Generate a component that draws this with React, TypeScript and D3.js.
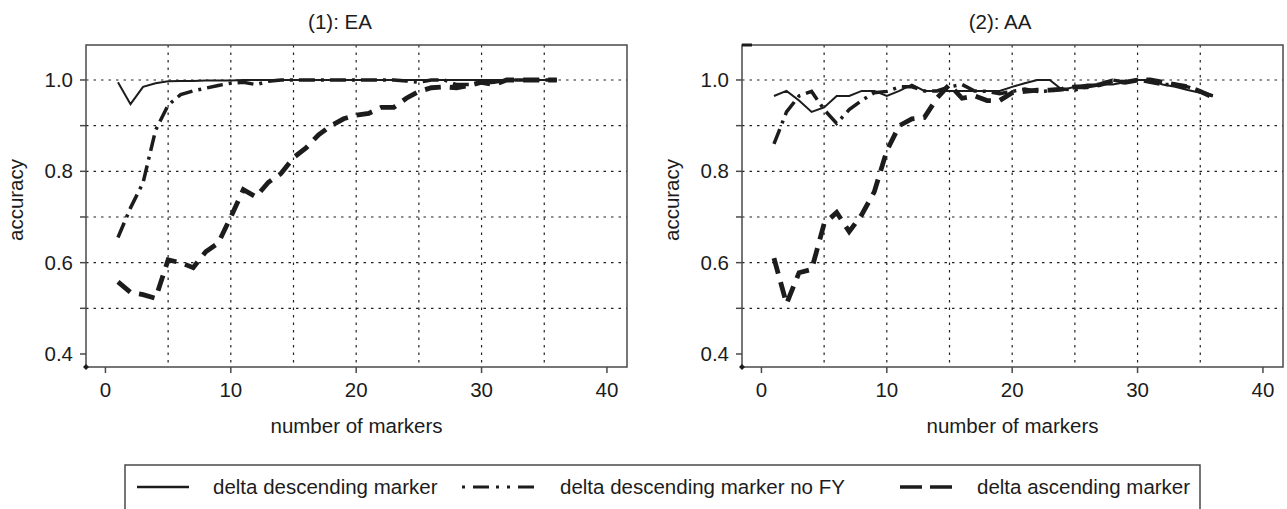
import * as d3 from 'd3';

// number of markers (x) shared by every series
const markers = [1, 2, 3, 4, 5, 6, 7, 8, 9, 10, 11, 12, 13, 14, 15, 16, 17, 18, 19, 20, 21, 22, 23, 24, 25, 26, 27, 28, 29, 30, 31, 32, 33, 34, 35, 36];

// (1): EA
const eaDescending = [0.995, 0.947, 0.985, 0.993, 0.997, 0.998, 0.998, 0.999, 0.999, 0.999, 1, 1, 1, 1, 1, 1, 1, 1, 1, 1, 1, 1, 1, 1, 1, 1, 1, 1, 1, 1, 1, 1, 1, 1, 1, 1];
const eaDescendingNoFY = [0.655, 0.72, 0.775, 0.89, 0.945, 0.968, 0.976, 0.982, 0.988, 0.993, 0.995, 0.99, 0.997, 1, 1, 1, 1, 1, 1, 1, 1, 1, 1, 0.998, 0.995, 1, 1, 0.99, 0.99, 0.993, 0.995, 1, 1, 1, 1, 1];
const eaAscending = [0.558, 0.535, 0.53, 0.522, 0.606, 0.6, 0.589, 0.624, 0.643, 0.7, 0.76, 0.744, 0.776, 0.795, 0.83, 0.851, 0.88, 0.9, 0.915, 0.923, 0.927, 0.94, 0.94, 0.96, 0.975, 0.983, 0.985, 0.983, 0.988, 0.995, 0.99, 1, 1, 1, 1, 1];

// (2): AA
const aaDescending = [0.965, 0.976, 0.955, 0.93, 0.94, 0.965, 0.965, 0.976, 0.976, 0.965, 0.976, 0.99, 0.976, 0.976, 0.976, 0.976, 0.976, 0.976, 0.976, 0.985, 0.993, 1, 1, 0.978, 0.985, 0.99, 0.99, 0.99, 0.995, 1, 1, 0.99, 0.985, 0.978, 0.972, 0.965];
const aaDescendingNoFY = [0.86, 0.93, 0.965, 0.975, 0.935, 0.905, 0.935, 0.955, 0.972, 0.975, 0.985, 0.985, 0.976, 0.976, 0.985, 0.99, 0.976, 0.975, 0.97, 0.975, 0.98, 0.975, 0.976, 0.98, 0.978, 0.985, 0.99, 1, 0.995, 1, 0.995, 0.99, 0.99, 0.985, 0.975, 0.965];
const aaAscending = [0.61, 0.51, 0.578, 0.585, 0.685, 0.71, 0.668, 0.705, 0.755, 0.845, 0.9, 0.915, 0.918, 0.96, 0.99, 0.96, 0.965, 0.955, 0.955, 0.972, 0.975, 0.978, 0.978, 0.98, 0.985, 0.985, 0.99, 0.998, 0.995, 1, 1, 0.995, 0.99, 0.985, 0.975, 0.962];

const xTicks = [0, 10, 20, 30, 40];
const xGrid = [5, 10, 15, 20, 25, 30, 35];
const yTicks = [0.4, 0.5, 0.6, 0.7, 0.8, 0.9, 1.0];
const yLabels = [0.4, 0.6, 0.8, 1.0];
const yGrid = [0.5, 0.6, 0.7, 0.8, 0.9, 1.0];

const seriesNames = ['delta descending marker', 'delta descending marker no FY', 'delta ascending marker'];

const FONT = '"Liberation Sans", Arial, sans-serif';
const INK = '#1c1c1c';
const FRAME = '#4a4a4a';

const styles = [
  { width: 2, dash: null },
  { width: 3.5, dash: '16,6,3,6' },
  { width: 4.8, dash: '16,9' },
];
// legend samples are drawn a bit differently from the curves
const legendStyles = [
  { width: 2.6, dash: null },
  { width: 3, dash: '3,8,16,7,3,8' },
  { width: 3.4, dash: '22,8' },
];

const top = 45;
const bottom = 367;

function Panel({ title, left, right, titleX, series }) {
  const x = d3.scaleLinear().domain([-1.55, 41.6]).range([left, right]);
  const y = d3.scaleLinear().domain([0.3715, 1.0766]).range([bottom, top]);
  const line = d3.line<number>()
    .x((_, i) => x(markers[i]))
    .y(d => y(d));
  const mid = (left + right) / 2;

  return (
    <g>
      <text x={titleX} y={29} textAnchor="middle" fontSize={20.5} fontFamily={FONT} fill={INK}>{title}</text>

      {yGrid.map(v => (
        <line key={'hy' + v} x1={left} x2={right} y1={y(v)} y2={y(v)} stroke="#222" strokeWidth={1.2} strokeDasharray="2.5,5" />
      ))}
      {xGrid.map(v => (
        <line key={'gx' + v} x1={x(v)} x2={x(v)} y1={top} y2={bottom} stroke="#222" strokeWidth={1.2} strokeDasharray="2.5,5" />
      ))}

      {series.map((s, k) => (
        <path key={k} d={line(s)} fill="none" stroke={INK} strokeWidth={styles[k].width}
          strokeDasharray={styles[k].dash || undefined} strokeLinejoin="miter" />
      ))}

      <rect x={left} y={top} width={right - left} height={bottom - top} fill="none" stroke={FRAME} strokeWidth={1.5} />

      {yTicks.map(v => (
        <line key={'ty' + v} x1={left - 6} x2={left} y1={y(v)} y2={y(v)} stroke={FRAME} strokeWidth={1.5} />
      ))}
      {yLabels.map(v => (
        <text key={'ly' + v} x={left - 13} y={y(v) + 7} textAnchor="end" fontSize={20.5} fontFamily={FONT} fill={INK}>
          {d3.format('.1f')(v)}
        </text>
      ))}
      {xTicks.map(v => (
        <line key={'tx' + v} x1={x(v)} x2={x(v)} y1={bottom} y2={bottom + 6} stroke={FRAME} strokeWidth={1.5} />
      ))}
      {xTicks.map(v => (
        <text key={'lx' + v} x={x(v)} y={bottom + 30} textAnchor="middle" fontSize={20.5} fontFamily={FONT} fill={INK}>{v}</text>
      ))}

      <path d={`M${left},${bottom - 3}L${left + 3},${bottom}L${left},${bottom + 3}L${left - 3},${bottom}Z`} fill={INK} />

      <text x={mid} y={433} textAnchor="middle" fontSize={20.5} fontFamily={FONT} fill={INK}>number of markers</text>
      <text transform={`translate(${left - 63},200) rotate(-90)`} textAnchor="middle"
        fontSize={20.5} fontFamily={FONT} fill={INK}>accuracy</text>
    </g>
  );
}

export default function App() {
  const legendItems = [
    { x0: 137, x1: 189, tx: 213 },
    { x0: 462, x1: 534, tx: 560 },
    { x0: 900, x1: 952, tx: 977 },
  ];
  return (
    <svg width={1287} height={509} style={{ position: 'absolute', left: 0, top: 0, background: '#fff' }}>
      <Panel title="(1): EA" left={86} right={627} titleX={340} series={[eaDescending, eaDescendingNoFY, eaAscending]} />
      <Panel title="(2): AA" left={742} right={1283} titleX={1000} series={[aaDescending, aaDescendingNoFY, aaAscending]} />
      <path d="M742,45L752,45" stroke={INK} strokeWidth={3} />

      <path d="M125,509L125,465L1200,465L1200,509" fill="none" stroke={FRAME} strokeWidth={1.5} />
      {legendItems.map((it, k) => (
        <g key={k}>
          <line x1={it.x0} x2={it.x1} y1={487} y2={487} stroke={INK} strokeWidth={legendStyles[k].width}
            strokeDasharray={legendStyles[k].dash || undefined} />
          <text x={it.tx} y={494} fontSize={20.5} fontFamily={FONT} fill={INK}>{seriesNames[k]}</text>
        </g>
      ))}
    </svg>
  );
}
